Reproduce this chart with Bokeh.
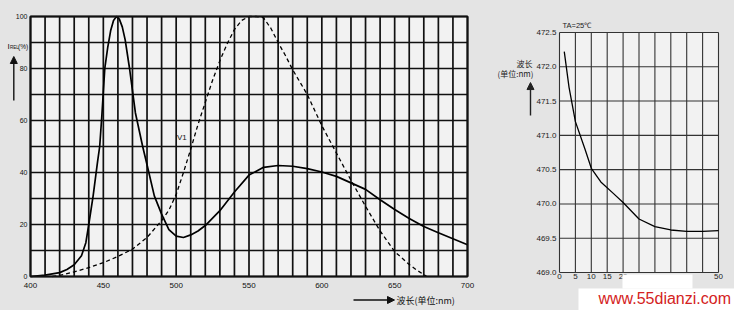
from bokeh.plotting import figure
from bokeh.layouts import row
from bokeh.models import FixedTicker, Label, Arrow, NormalHead, Range1d, BoxAnnotation
from bokeh.embed import file_html
from bokeh.resources import INLINE

# ---------------- data: left panel (relative intensity vs wavelength) ----------------
spec_wl = [400, 410, 420, 425, 430, 435, 438, 440, 443, 446, 447.5, 449, 451, 453, 455, 457, 459,
           461, 463, 465, 468, 472, 477, 480, 485, 490, 495, 500, 505, 510, 515, 520, 530, 540,
           550, 560, 570, 580, 590, 600, 610, 620, 630, 640, 650, 660, 670, 680, 690, 700]
spec_rel = [0, 0.5, 1.5, 2.7, 4.5, 8, 13, 20, 31, 44, 50, 62, 80, 88, 94.5, 98.5, 100,
            99, 96, 91, 80, 63, 50, 43, 31, 24, 18, 15.5, 15, 16, 17.5, 19.6, 25.3, 32.5,
            39, 42, 42.7, 42.4, 41.5, 40.2, 38.5, 36, 33.5, 29.5, 25.8, 22.3, 19.2, 16.8, 14.5, 12.2]

v1_wl = [415, 420, 430, 440, 450, 460, 470, 480, 490, 495, 500, 505, 510, 515, 520, 525, 530,
         535, 540, 545, 550, 555, 560, 565, 570, 575, 580, 590, 600, 610, 620, 630, 640, 650,
         660, 665, 672]
v1_rel = [0, 0.4, 1.8, 3.4, 5.3, 7.7, 10.5, 15, 21.5, 25.5, 31.5, 40, 49, 58.5, 67, 75.5, 83,
          89.5, 95, 98.5, 100, 100, 99.5, 95.5, 90, 85, 79.5, 70, 58, 47.5, 37, 27, 17.5, 9.6,
          4.6, 2.5, 0]

x1_ticks = [400, 450, 500, 550, 600, 650, 700]
x1_minor = [410, 420, 430, 440, 460, 470, 480, 490, 510, 520, 530, 540, 560, 570, 580, 590,
            610, 620, 630, 640, 660, 670, 680, 690]
y1_ticks = [0, 20, 40, 60, 80, 100]
y1_minor = [10, 30, 50, 70, 90]

# ---------------- data: right panel (wavelength vs temperature) ----------------
temp = [1.5, 3, 5, 8, 10, 13, 17, 20, 25, 30, 35, 40, 45, 50]
wave = [472.22, 471.7, 471.2, 470.8, 470.52, 470.32, 470.15, 470.02, 469.78, 469.67,
        469.62, 469.6, 469.6, 469.61]

x2_ticks = [0, 5, 10, 15, 20, 50]
x2_minor = [25, 30, 35, 40, 45]
y2_ticks = [469.0, 469.5, 470.0, 470.5, 471.0, 471.5, 472.0, 472.5]
y2_labels = {469.0: "469.0", 469.5: "469.5", 470.0: "470.0", 470.5: "470.5",
             471.0: "471.0", 471.5: "471.5", 472.0: "472.0", 472.5: "472.5"}

PAPER = "#e4e4e4"
INNER = "#f2f2f2"
FONT = "Liberation Sans"
CJK = "Noto Sans CJK SC"
H = 310


def lab(x, y, text, size, font=FONT, color="#111111", **kw):
    return Label(x=x, y=y, text=text, text_font=font, text_font_size=size,
                 text_baseline="middle", text_align="left", text_color=color, **kw)


def arrow(x0, y0, x1, y1, color="#111111"):
    return Arrow(x_start=x0, y_start=y0, x_end=x1, y_end=y1, line_color=color, line_width=1.4,
                 end=NormalHead(size=7, fill_color=color, line_color=color))


def style_axes(p, color, size_x, size_y, standoff_x, standoff_y):
    for ax, size, so in ((p.xaxis[0], size_x, standoff_x), (p.yaxis[0], size_y, standoff_y)):
        ax.axis_line_color = None
        ax.major_tick_line_color = None
        ax.minor_tick_line_color = None
        ax.major_tick_out = 0
        ax.major_tick_in = 0
        ax.major_label_text_font = FONT
        ax.major_label_text_font_size = size
        ax.major_label_text_color = color
        ax.major_label_standoff = so
    p.xgrid.visible = False
    p.ygrid.visible = False


# ---------------- left figure (frame = whole canvas, data box at 30..467 x 16..276) ----------------
p1 = figure(width=490, height=H,
            x_range=Range1d(400 - 30 / 1.45667, 700 + 23 / 1.45667),
            y_range=Range1d(0 - 34 / 2.6, 100 + 16 / 2.6),
            output_backend="svg", toolbar_location=None, min_border=0,
            styles={"background-color": PAPER})
p1.title.visible = False
p1.background_fill_color = PAPER
p1.border_fill_color = PAPER
p1.outline_line_color = None
p1.xaxis.ticker = FixedTicker(ticks=x1_ticks)
p1.yaxis.ticker = FixedTicker(ticks=y1_ticks)
p1.xaxis.fixed_location = y1_ticks[0]
p1.yaxis.fixed_location = x1_ticks[0]
style_axes(p1, "#111111", "8px", "7px", 6, 3)

x1_lines = sorted(x1_ticks + x1_minor)
y1_lines = sorted(y1_ticks + y1_minor)
p1.quad(left=[x1_ticks[0]], right=[x1_ticks[-1]], bottom=[y1_ticks[0]], top=[y1_ticks[-1]],
        fill_color=INNER, line_color=None, level="underlay")
p1.segment(x0=x1_lines, y0=[y1_ticks[0]] * len(x1_lines), x1=x1_lines,
           y1=[y1_ticks[-1]] * len(x1_lines), line_color="#111111", line_width=1.7)
p1.segment(x0=[x1_ticks[0]] * len(y1_lines), y0=y1_lines, x1=[x1_ticks[-1]] * len(y1_lines),
           y1=y1_lines, line_color="#111111", line_width=1.7)

p1.line(spec_wl, spec_rel, line_color="black", line_width=1.7)
p1.line(v1_wl, v1_rel, line_color="black", line_width=1.3, line_dash="4 3")

p1.quad(left=[x1_ticks[0]], right=[x1_ticks[-1]], bottom=[y1_ticks[0]], top=[y1_ticks[-1]],
        fill_color=None, line_color="#111111", line_width=2)

p1.add_layout(lab(500.5, 53.5, "V1", "8px"))

# y title: I REL (%) and arrow
p1.add_layout(lab(384.21, 88.46, "I", "8px"))
p1.add_layout(lab(385.9, 88.1, "REL", "4.5px"))
p1.add_layout(lab(391.4, 88.46, "(%)", "6.5px"))
p1.add_layout(arrow(388.54, 67.69, 388.54, 84.62))

# x title: arrow + 波长(单位:nm)
p1.add_layout(arrow(621.74, -9.04, 649.89, -9.04))
p1.add_layout(lab(651.26, -9.04, "波长(单位:nm)", "9px", font=CJK))

# ---------------- right figure (page x 490..734, data box at 559..718 x 32..272) ----------------
p2 = figure(width=244, height=H,
            x_range=Range1d(0 - 69 / 3.18, 50 + 16 / 3.18),
            y_range=Range1d(469.0 - 38 / 68.571, 472.5 + 32 / 68.571),
            output_backend="svg", toolbar_location=None, min_border=0,
            styles={"background-color": PAPER})
p2.title.visible = False
p2.background_fill_color = PAPER
p2.border_fill_color = PAPER
p2.outline_line_color = None
p2.xaxis.ticker = FixedTicker(ticks=x2_ticks)
p2.yaxis.ticker = FixedTicker(ticks=y2_ticks)
p2.yaxis.major_label_overrides = y2_labels
p2.xaxis.fixed_location = y2_ticks[0]
p2.yaxis.fixed_location = x2_ticks[0]
style_axes(p2, "#222222", "8px", "8px", 2, 3)

x2_lines = sorted(x2_ticks + x2_minor)
p2.quad(left=[x2_ticks[0]], right=[x2_ticks[-1]], bottom=[y2_ticks[0]], top=[y2_ticks[-1]],
        fill_color=INNER, line_color=None, level="underlay")
p2.segment(x0=x2_lines, y0=[y2_ticks[0]] * len(x2_lines), x1=x2_lines,
           y1=[y2_ticks[-1]] * len(x2_lines), line_color="#333333", line_width=1.1)
p2.segment(x0=[x2_ticks[0]] * len(y2_ticks), y0=y2_ticks, x1=[x2_ticks[-1]] * len(y2_ticks),
           y1=y2_ticks, line_color="#333333", line_width=1.1)

p2.line(temp, wave, line_color="black", line_width=1.3)

p2.add_layout(lab(0.94, 472.60, "TA=25℃", "7.5px", color="#222222"))
p2.add_layout(lab(-13.52, 472.05, "波长", "8px", font=CJK, color="#222222"))
p2.add_layout(lab(-19.5, 471.895, "(单位:nm)", "8px", font=CJK, color="#222222"))
p2.add_layout(arrow(-9.12, 471.29, -9.12, 471.77, color="#222222"))

# watermark patch and text
p2.add_layout(BoxAnnotation(left=19.81, right=41.82, bottom=468.767, top=468.971,
                            fill_color="white", fill_alpha=1, line_color=None))
p2.add_layout(BoxAnnotation(left=5.97, right=60, bottom=468.3, top=468.767,
                            fill_color="white", fill_alpha=1, line_color=None))
p2.add_layout(lab(12.26, 468.621, "www.55dianzi.com", "16px", color="#d42222"))

layout = row(p1, p2, styles={"background-color": PAPER})
open("out.html", "w").write(file_html(layout, INLINE))
